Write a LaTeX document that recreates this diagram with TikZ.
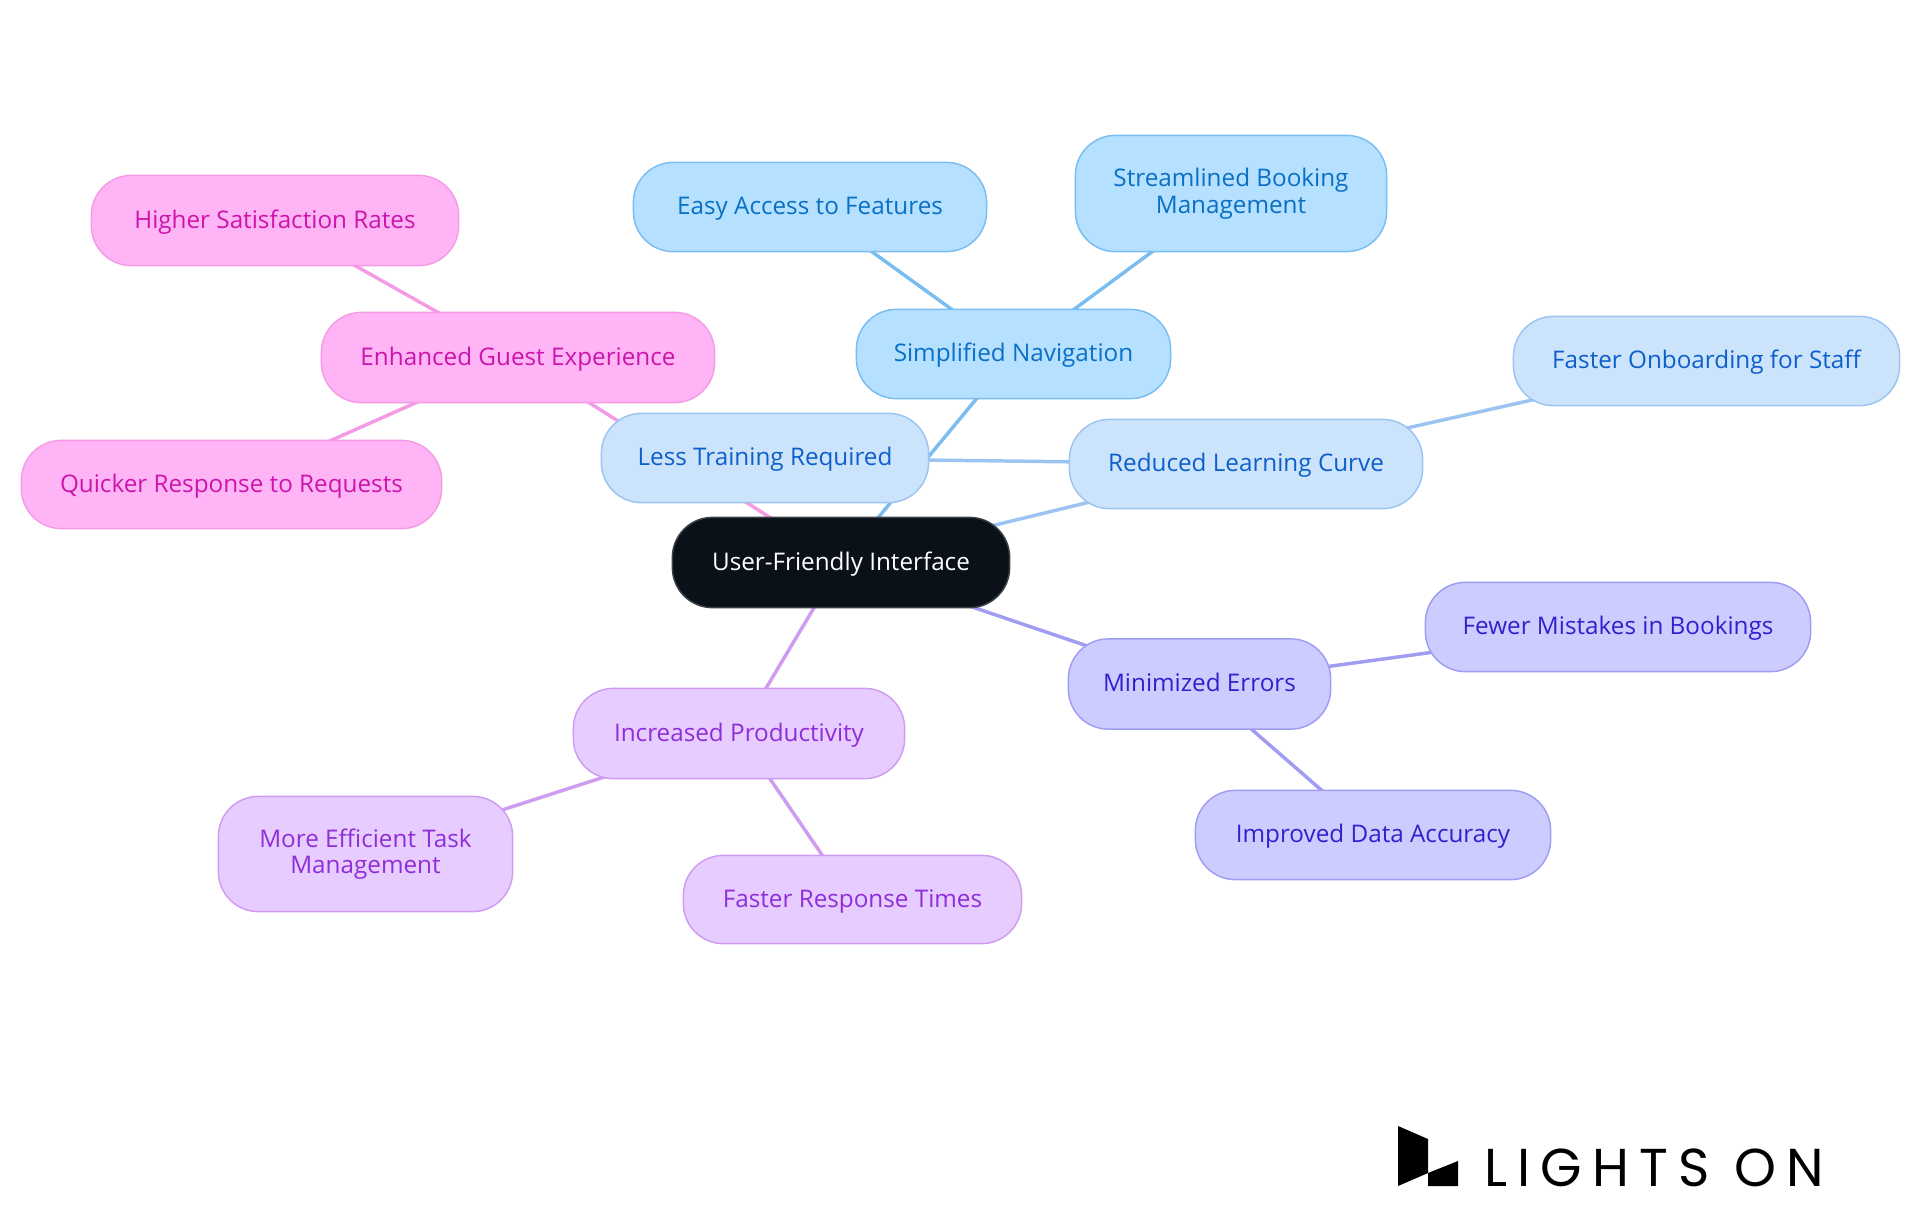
\documentclass[tikz,border=0pt]{standalone}
\usepackage{fontspec}
\setmainfont{Open Sans}
\newfontfamily\logofont[LetterSpace=19]{Poppins}
\usetikzlibrary{backgrounds}

\definecolor{rootfill}{HTML}{0B1119}
\definecolor{rootline}{HTML}{3D4249}
\definecolor{navfill}{HTML}{B5E0FF}
\definecolor{navline}{HTML}{7ABDF0}
\definecolor{navtext}{HTML}{0A70C4}
\definecolor{curvefill}{HTML}{CCE3FC}
\definecolor{curveline}{HTML}{9CC4F2}
\definecolor{curvetext}{HTML}{0E5FCC}
\definecolor{guestfill}{HTML}{FFB5F5}
\definecolor{guestline}{HTML}{F59BE6}
\definecolor{guesttext}{HTML}{CC14AD}
\definecolor{prodfill}{HTML}{E6CCFF}
\definecolor{prodline}{HTML}{CF9CF2}
\definecolor{prodtext}{HTML}{8F2ED9}
\definecolor{errfill}{HTML}{CCCCFF}
\definecolor{errline}{HTML}{A09CF2}
\definecolor{errtext}{HTML}{3320CC}

\tikzset{
	idea/.style={rounded corners=30pt, line width=1.1pt, inner sep=0pt, align=center, text height=15.6pt, text depth=4pt, font=\fontsize{18.2pt}{20pt}\selectfont},
	twolines/.style={text height=, text depth=, execute at begin node={\rule{0pt}{15.5pt}}},
	size/.style 2 args={minimum width=(#1-0.75)*0.75pt, minimum height=(#2-0.75)*0.75pt},
	rootidea/.style={idea, fill=rootfill, draw=rootline, text=white},
	navidea/.style={idea, fill=navfill, draw=navline, text=navtext},
	curveidea/.style={idea, fill=curvefill, draw=curveline, text=curvetext},
	guestidea/.style={idea, fill=guestfill, draw=guestline, text=guesttext},
	prodidea/.style={idea, fill=prodfill, draw=prodline, text=prodtext},
	erridea/.style={idea, fill=errfill, draw=errline, text=errtext},
	link/.style={line width=2.6pt}
}

\begin{document}
\begin{tikzpicture}[x=0.75pt, y=-0.75pt]
	\useasboundingbox (0,0) rectangle (1920,1215);

	% Central node
	\node[rootidea, size={338}{91}] (root) at (841,562.5) {User-Friendly Interface};

	% Navigation branch
	\node[navidea, size={315}{90}] (navigation) at (1013.5,354) {Simplified Navigation};
	\node[navidea, size={354}{90}] (access) at (810,207) {Easy Access to Features};
	\node[navidea, twolines, size={312}{117}] (booking) at (1231,193.5) {Streamlined Booking\\Management};

	% Learning curve branch
	\node[curveidea, size={354}{90}] (curve) at (1246,464) {Reduced Learning Curve};
	\node[curveidea, size={387}{90}] (onboarding) at (1706.5,361) {Faster Onboarding for Staff};
	\node[curveidea, size={328}{90}] (training) at (765,458) {Less Training Required};

	% Guest branch
	\node[guestidea, size={394}{91}] (guest) at (518,357.5) {Enhanced Guest Experience};
	\node[guestidea, size={368}{91}] (satisfaction) at (275,220.5) {Higher Satisfaction Rates};
	\node[guestidea, size={421}{89}] (requests) at (231.5,484.5) {Quicker Response to Requests};

	% Productivity branch
	\node[prodidea, size={332}{91}] (productivity) at (739,733.5) {Increased Productivity};
	\node[prodidea, twolines, size={295}{116}] (tasks) at (365.5,854) {More Efficient Task\\Management};
	\node[prodidea, size={339}{89}] (response) at (852.5,899.5) {Faster Response Times};

	% Errors branch
	\node[erridea, size={263}{91}] (errors) at (1199.5,684) {Minimized Errors};
	\node[erridea, size={386}{90}] (mistakes) at (1618,627) {Fewer Mistakes in Bookings};
	\node[erridea, size={356}{90}] (accuracy) at (1373,835) {Improved Data Accuracy};

	% Connectors run under the nodes
	\begin{scope}[on background layer]
		\draw[link, navline] (root.center) -- (navigation.center);
		\draw[link, navline] (navigation.center) -- (access.center);
		\draw[link, navline] (navigation.center) -- (booking.center);
		\draw[link, curveline] (root.center) -- (curve.center);
		\draw[link, curveline] (curve.center) -- (onboarding.center);
		\draw[link, curveline] (curve.center) -- (training.center);
		\draw[link, guestline] (root.center) -- (guest.center);
		\draw[link, guestline] (guest.center) -- (satisfaction.center);
		\draw[link, guestline] (guest.center) -- (requests.center);
		\draw[link, prodline] (root.center) -- (productivity.center);
		\draw[link, prodline] (productivity.center) -- (tasks.center);
		\draw[link, prodline] (productivity.center) -- (response.center);
		\draw[link, errline] (root.center) -- (errors.center);
		\draw[link, errline] (errors.center) -- (mistakes.center);
		\draw[link, errline] (errors.center) -- (accuracy.center);
	\end{scope}

	% Logo
	\fill[black] (1398,1126) -- (1428,1139) -- (1428,1173) -- (1398,1186) -- cycle;
	\fill[black] (1428,1173) -- (1458,1161) -- (1458,1186) -- (1428,1186) -- cycle;
	\node[anchor=base west, inner sep=0pt, font=\logofont\fontsize{40pt}{40pt}\selectfont] (logo) at (1484,1186) {LIGHTS ON};
\end{tikzpicture}
\end{document}
